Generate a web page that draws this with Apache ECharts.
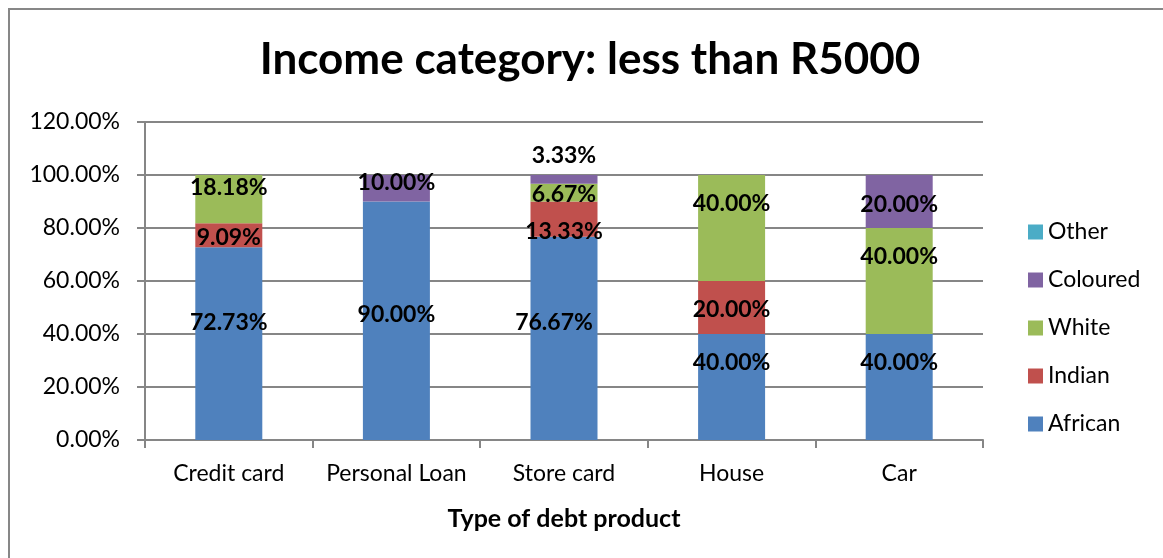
<!DOCTYPE html>
<html>
<head>
<meta charset="utf-8">
<script src="https://cdn.jsdelivr.net/npm/echarts@6/dist/echarts.min.js"></script>
<style>
  html, body { margin: 0; padding: 0; background: #fff; }
  #chart { width: 1163px; height: 558px; }
</style>
</head>
<body>
<div id="chart"></div>
<script>
// Share of debt holders by population group, income below R5000 (percent)
const categories = ['Credit card', 'Personal Loan', 'Store card', 'House', 'Car'];
const african  = [72.73, 90.00, 76.67, 40.00, 40.00];
const indian   = [9.09, 0, 13.33, 20.00, 0];
const white    = [18.18, 0, 6.67, 40.00, 40.00];
const coloured = [0, 10.00, 3.33, 0, 20.00];
const other    = [0, 0, 0, 0, 0];
const yTicks   = [0, 20, 40, 60, 80, 100, 120];

// Hand-placed label nudges [dx, dy] in pixels, per series and category
const nudgeAfrican  = [[0, -21], [0, -6], [-10, -16], [0, -24], [0, -24]];
const nudgeIndian   = [[0, 2], [0, 0], [0, 12], [0, 2], [0, 0]];
const nudgeWhite    = [[0, -12], [0, 0], [0, 2], [0, -24], [0, -24]];
const nudgeColoured = [[0, 0], [0, -6], [0, -24], [0, 0], [0, 3]];
const nudgeOther    = [[0, 0], [0, 0], [0, 0], [0, 0], [0, 0]];

const FONT = 'Lato';
const pct = v => v.toFixed(2) + '%';

function makeSeries(name, values, color, nudges) {
  return {
    name: name,
    type: 'bar',
    stack: 'total',
    barWidth: 67,
    itemStyle: { color: color },
    data: values.map((v, i) => ({
      value: v,
      label: { show: v > 0, offset: nudges[i] }
    })),
    label: {
      position: 'inside',
      formatter: p => pct(p.value),
      color: '#000',
      fontFamily: FONT,
      fontWeight: 'bold',
      fontSize: 23
    }
  };
}

const chart = echarts.init(document.getElementById('chart'), null, { renderer: 'canvas' });
chart.setOption({
  backgroundColor: '#fff',
  animation: false,
  graphic: [{
    type: 'rect',
    shape: { x: 9, y: 9, width: 1200, height: 600 },
    style: { fill: 'none', stroke: '#878787', lineWidth: 2 },
    silent: true,
    z: -1
  }],
  title: {
    text: 'Income category: less than R5000',
    left: 585,
    textAlign: 'center',
    top: 33,
    textStyle: { fontFamily: FONT, fontWeight: 'bold', fontSize: 44, color: '#000' }
  },
  legend: {
    data: ['Other', 'Coloured', 'White', 'Indian', 'African'],
    orient: 'vertical',
    left: 1023,
    top: 214,
    itemWidth: 15,
    itemHeight: 15,
    itemGap: 22,
    icon: 'rect',
    textStyle: { fontFamily: FONT, fontSize: 23, color: '#000', lineHeight: 26 }
  },
  grid: { left: 145, right: 180, top: 122, bottom: 118 },
  xAxis: {
    type: 'category',
    data: categories,
    name: 'Type of debt product',
    nameLocation: 'middle',
    nameGap: 66,
    nameTextStyle: { fontFamily: FONT, fontWeight: 'bold', fontSize: 25, color: '#000' },
    axisLine: { lineStyle: { color: '#868686', width: 2 } },
    axisTick: { show: true, length: 8, lineStyle: { color: '#868686', width: 2 } },
    axisLabel: { interval: 0, fontFamily: FONT, fontSize: 23, color: '#000', margin: 22 }
  },
  yAxis: {
    type: 'value',
    min: yTicks[0],
    max: yTicks[yTicks.length - 1],
    interval: yTicks[1] - yTicks[0],
    axisLine: { show: true, lineStyle: { color: '#868686', width: 2 } },
    axisTick: { show: true, length: 8, lineStyle: { color: '#868686', width: 2 } },
    splitLine: { lineStyle: { color: '#868686', width: 2 } },
    axisLabel: { fontFamily: FONT, fontSize: 23, color: '#000', margin: 25, formatter: v => pct(v) }
  },
  series: [
    makeSeries('African', african, '#4F81BD', nudgeAfrican),
    makeSeries('Indian', indian, '#C0504D', nudgeIndian),
    makeSeries('White', white, '#9BBB59', nudgeWhite),
    makeSeries('Coloured', coloured, '#8064A2', nudgeColoured),
    makeSeries('Other', other, '#4BACC6', nudgeOther)
  ]
});
</script>
</body>
</html>
